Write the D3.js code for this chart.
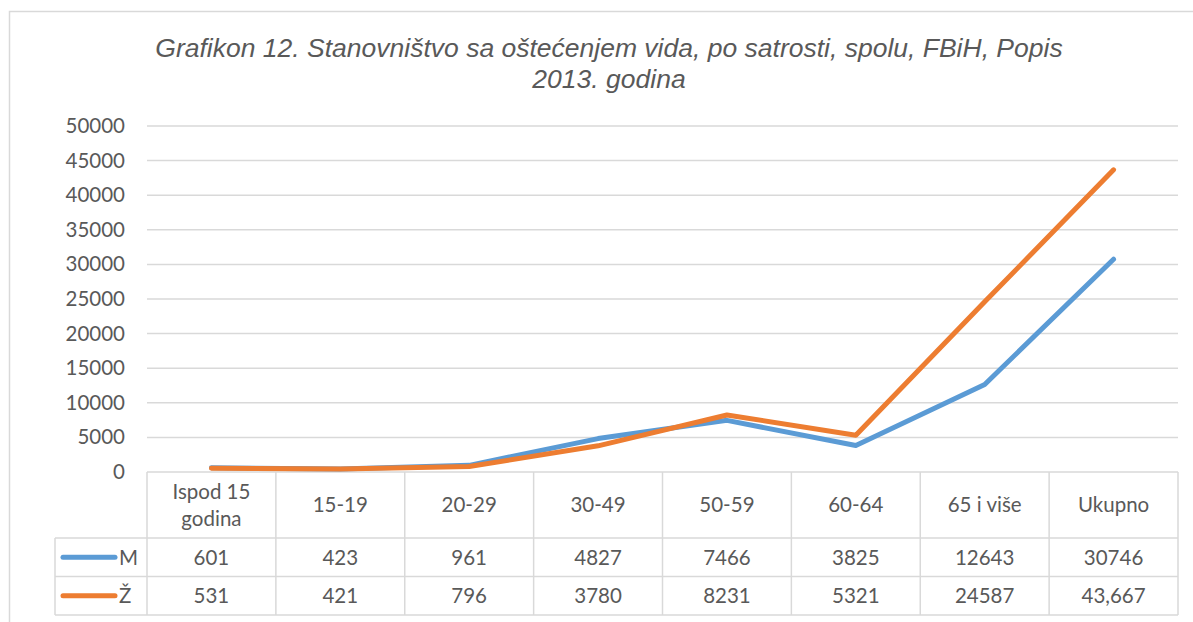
<!DOCTYPE html>
<html>
<head>
<meta charset="utf-8">
<script src="https://cdn.jsdelivr.net/npm/d3@7"></script>
<style>
  body { margin: 0; background: #fff; }
  svg { display: block; }
</style>
</head>
<body>
<div id="chart"></div>
<script>
const categories = [['Ispod 15', 'godina'], ['15-19'], ['20-29'], ['30-49'], ['50-59'], ['60-64'], ['65 i više'], ['Ukupno']];
const valuesM = [601, 423, 961, 4827, 7466, 3825, 12643, 30746];
const valuesZ = [531, 421, 796, 3780, 8231, 5321, 24587, 43667];
const labelsM = ['601', '423', '961', '4827', '7466', '3825', '12643', '30746'];
const labelsZ = ['531', '421', '796', '3780', '8231', '5321', '24587', '43,667'];
const yTicks = [0, 5000, 10000, 15000, 20000, 25000, 30000, 35000, 40000, 45000, 50000];
const titleLines = ['Grafikon 12. Stanovništvo sa oštećenjem vida, po satrosti, spolu, FBiH, Popis', '2013. godina'];

const series = [
    { name: 'M', values: valuesM, labels: labelsM, color: '#5B9BD5' },
    { name: 'Ž', values: valuesZ, labels: labelsZ, color: '#ED7D31' }
];

const width = 1193, height = 622;
const plot = { left: 147, right: 1178, top: 126, bottom: 472 };
const table = { header: 538, row: 38.5, legendLeft: 55 };
const textColor = '#595959';
const gridColor = '#d9d9d9';
const font = 'Lato, "Open Sans", sans-serif';
const fontSize = 20.5;

const svg = d3.select('#chart')
    .append('svg')
    .attr('width', width)
    .attr('height', height);

// chart frame
svg.append('rect')
    .attr('x', 9.5).attr('y', 11.5)
    .attr('width', width + 20).attr('height', height + 20)
    .attr('fill', '#fff')
    .attr('stroke', gridColor)
    .attr('stroke-width', 1.5);

// title
svg.append('g')
    .selectAll('text')
    .data(titleLines)
    .join('text')
    .attr('x', 609)
    .attr('y', (d, i) => 57 + i * 31)
    .attr('text-anchor', 'middle')
    .attr('font-family', '"Liberation Sans", Arial, sans-serif')
    .attr('font-style', 'italic')
    .attr('font-size', 26.5)
    .attr('fill', textColor)
    .text(d => d);

const x = d3.scaleBand()
    .domain(d3.range(categories.length))
    .range([plot.left, plot.right]);

const y = d3.scaleLinear()
    .domain([0, 50000])
    .range([plot.bottom, plot.top]);

// gridlines
svg.append('g')
    .selectAll('line')
    .data(yTicks.filter(t => t > 0))
    .join('line')
    .attr('x1', plot.left).attr('x2', plot.right)
    .attr('y1', d => y(d)).attr('y2', d => y(d))
    .attr('stroke', gridColor)
    .attr('stroke-width', 1.5);

// y axis labels
const yAxis = svg.append('g')
    .attr('transform', `translate(${plot.left - 22},0)`)
    .call(d3.axisLeft(y).tickValues(yTicks).tickSize(0).tickPadding(0).tickFormat(d3.format('d')));
yAxis.select('.domain').remove();
yAxis.selectAll('text')
    .attr('font-family', font)
    .attr('font-size', fontSize)
    .attr('fill', textColor);

// data table
const tableG = svg.append('g')
    .attr('stroke', gridColor)
    .attr('stroke-width', 1.5);
const tableBottom = table.header + table.row * series.length;

// horizontal lines
tableG.append('line')
    .attr('x1', plot.left).attr('x2', plot.right)
    .attr('y1', plot.bottom).attr('y2', plot.bottom);
tableG.selectAll('.hrow')
    .data(d3.range(series.length + 1))
    .join('line')
    .attr('class', 'hrow')
    .attr('x1', table.legendLeft).attr('x2', plot.right)
    .attr('y1', d => table.header + d * table.row)
    .attr('y2', d => table.header + d * table.row);
// vertical lines
tableG.selectAll('.vcol')
    .data(d3.range(categories.length + 1))
    .join('line')
    .attr('class', 'vcol')
    .attr('x1', d => plot.left + d * x.bandwidth())
    .attr('x2', d => plot.left + d * x.bandwidth())
    .attr('y1', plot.bottom).attr('y2', tableBottom);
tableG.append('line')
    .attr('x1', table.legendLeft).attr('x2', table.legendLeft)
    .attr('y1', table.header).attr('y2', tableBottom);

// header labels
svg.append('g')
    .selectAll('text')
    .data(categories)
    .join('text')
    .attr('x', (d, i) => x(i) + x.bandwidth() / 2)
    .attr('y', d => (plot.bottom + table.header) / 2 + 7 - (d.length - 1) * 13.5)
    .attr('text-anchor', 'middle')
    .attr('font-family', font)
    .attr('font-size', fontSize)
    .attr('fill', textColor)
    .each(function (d) {
        d3.select(this).selectAll('tspan')
            .data(d)
            .join('tspan')
            .attr('x', d3.select(this).attr('x'))
            .attr('dy', (t, j) => j === 0 ? 0 : 27)
            .text(t => t);
    });

// value rows
series.forEach((s, si) => {
    const cy = table.header + table.row * si + table.row / 2;
    const row = svg.append('g');
    row.selectAll('text')
        .data(s.labels)
        .join('text')
        .attr('x', (d, i) => x(i) + x.bandwidth() / 2)
        .attr('y', cy + 7.5)
        .attr('text-anchor', 'middle')
        .attr('font-family', font)
        .attr('font-size', fontSize)
        .attr('fill', textColor)
        .text(d => d);
    // legend key
    row.append('line')
        .attr('x1', 63).attr('x2', 115)
        .attr('y1', cy).attr('y2', cy)
        .attr('stroke', s.color)
        .attr('stroke-width', 5)
        .attr('stroke-linecap', 'round');
    row.append('text')
        .attr('x', 119)
        .attr('y', cy + 7.5)
        .attr('font-family', font)
        .attr('font-size', fontSize)
        .attr('fill', textColor)
        .text(s.name);
});

// lines
const line = d3.line()
    .x((d, i) => x(i) + x.bandwidth() / 2)
    .y(d => y(d));

svg.append('g')
    .selectAll('path')
    .data(series)
    .join('path')
    .attr('d', d => line(d.values))
    .attr('fill', 'none')
    .attr('stroke', d => d.color)
    .attr('stroke-width', 5)
    .attr('stroke-linejoin', 'round')
    .attr('stroke-linecap', 'round');
</script>
</body>
</html>
